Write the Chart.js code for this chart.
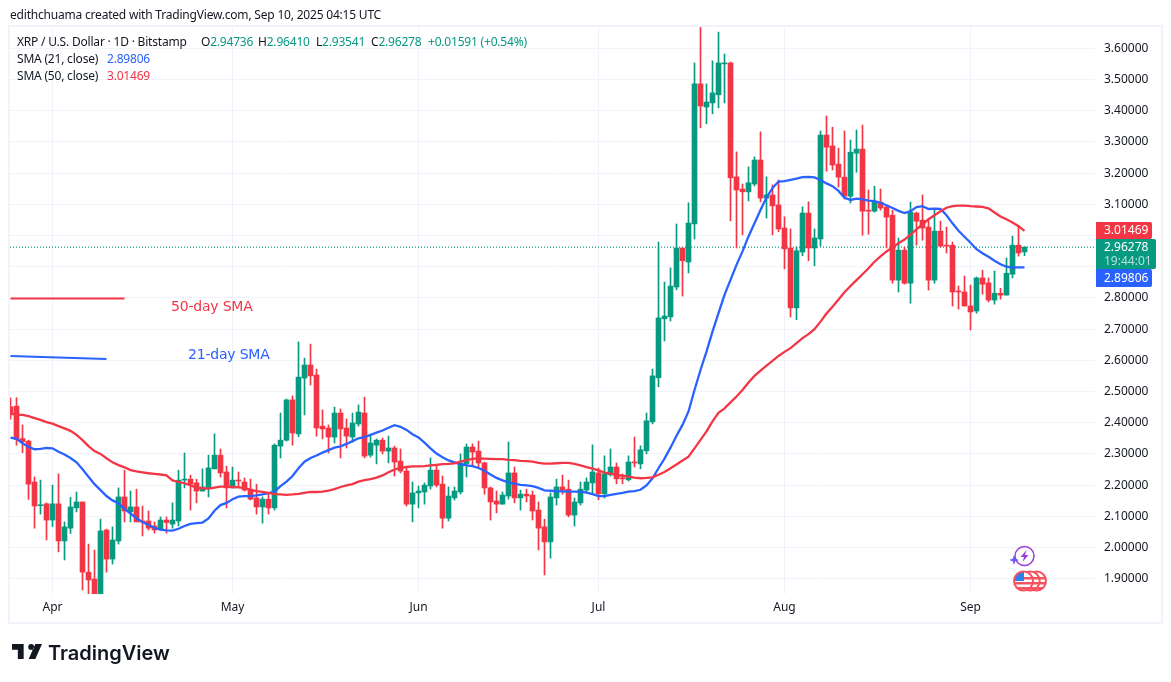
<!DOCTYPE html>
<html><head><meta charset="utf-8">
<style>
html,body{margin:0;padding:0;width:1171px;height:682px;overflow:hidden;background:#fff}
#wrap{position:relative;width:1171px;height:682px}
canvas{position:absolute;left:0;top:0}
.t{position:absolute;font:12px "Noto Sans",sans-serif;letter-spacing:-0.2px;color:#131722;white-space:nowrap;line-height:16px}
.g{color:#089981}
#frame{position:absolute;left:8px;top:25px;width:1151px;height:595px;border:2px solid #f0f3fa}
.note{position:absolute;font:14px "DejaVu Sans",sans-serif;letter-spacing:-0.2px;white-space:nowrap;line-height:18px}
</style></head><body>
<div id="wrap">
<div id="frame"></div>
<canvas id="c" width="1171" height="682"></canvas>
<div class="t" style="left:10px;top:7px">edithchuama created with TradingView.com, Sep 10, 2025 04:15 UTC</div>
<div class="t" style="left:17px;top:34px">XRP / U.S. Dollar · 1D · Bitstamp</div>
<div class="t" style="left:201px;top:34px">O<span class="g">2.94736</span></div>
<div class="t" style="left:258px;top:34px">H<span class="g">2.96410</span></div>
<div class="t" style="left:316px;top:34px">L<span class="g">2.93541</span></div>
<div class="t" style="left:371px;top:34px">C<span class="g">2.96278</span></div>
<div class="t g" style="left:428px;top:34px">+0.01591 (+0.54%)</div>
<div class="t" style="left:17px;top:51px">SMA (21, close)</div>
<div class="t" style="left:107px;top:51px;color:#2962FF">2.89806</div>
<div class="t" style="left:17px;top:68px">SMA (50, close)</div>
<div class="t" style="left:107px;top:68px;color:#F23645">3.01469</div>
<div class="note" style="left:171px;top:297px;color:#F23645">50-day SMA</div>
<div class="note" style="left:188px;top:345px;color:#2962FF">21-day SMA</div>
<svg style="position:absolute;left:12px;top:644px" width="30" height="15" viewBox="0 0 36 18"><path fill="#131722" d="M14 18H7V7H0V0h14v18ZM23 7a3.5 3.5 0 1 0 0-7 3.5 3.5 0 0 0 0 7ZM28 0h8l-8 18h-8l8-18Z"/></svg>
<div style="position:absolute;left:48px;top:639px;font:600 20px Inter,sans-serif;color:#131722;line-height:28px;white-space:nowrap">TradingView</div>
</div>
<script src="https://cdn.jsdelivr.net/npm/chart.js@4/dist/chart.umd.min.js"></script>
<script>
// Day index 0 = 25 Mar 2025, index 169 = 10 Sep 2025
const tickDays = [7,37,68,98,129,160];
const tickNames = {7:'Apr',37:'May',68:'Jun',98:'Jul',129:'Aug',160:'Sep'};
const priceTicks = [1.9,2.0,2.1,2.2,2.3,2.4,2.5,2.6,2.7,2.8,2.9,3.0,3.1,3.2,3.3,3.4,3.5,3.6];

const open = [2.451,2.453,2.349,2.341,2.210,2.134,2.140,2.088,2.140,2.021,2.062,2.127,2.146,1.921,1.899,1.832,2.056,1.963,2.021,2.162,
2.114,2.130,2.085,2.085,2.069,2.059,2.088,2.075,2.085,2.216,2.219,2.207,2.181,2.191,2.252,2.296,2.242,2.191,2.216,2.210,
2.187,2.159,2.130,2.155,2.127,2.325,2.344,2.473,2.364,2.543,2.585,2.553,2.389,2.383,2.354,2.431,2.383,2.354,2.396,2.431,
2.296,2.328,2.344,2.309,2.319,2.277,2.245,2.139,2.175,2.178,2.197,2.248,2.203,2.094,2.159,2.178,2.268,2.322,2.309,2.271,
2.191,2.149,2.139,2.165,2.239,2.159,2.171,2.168,2.120,2.066,2.018,2.159,2.194,2.187,2.104,2.143,2.184,2.207,2.239,2.172,
2.233,2.258,2.223,2.217,2.274,2.268,2.310,2.403,2.544,2.733,2.739,2.835,2.960,2.915,3.037,3.486,3.412,3.425,3.451,3.550,
3.553,3.188,3.149,3.140,3.165,3.242,3.120,3.130,3.098,3.024,2.960,2.768,2.947,3.072,2.960,2.989,3.322,3.287,3.229,3.187,
3.126,3.264,3.277,3.081,3.078,3.107,3.091,3.065,2.857,2.953,2.847,3.072,3.049,3.027,2.857,3.014,2.969,2.969,2.822,2.819,
2.774,2.758,2.864,2.848,2.793,2.815,2.809,2.876,2.969,2.94736];
const high = [2.480,2.480,2.393,2.344,2.226,2.216,2.143,2.200,2.236,2.082,2.161,2.178,2.146,2.011,1.992,2.091,2.059,2.066,2.191,2.248,
2.181,2.187,2.133,2.117,2.082,2.098,2.098,2.143,2.248,2.303,2.232,2.219,2.252,2.296,2.364,2.316,2.261,2.258,2.242,2.223,
2.219,2.203,2.162,2.175,2.332,2.431,2.476,2.486,2.659,2.607,2.652,2.572,2.441,2.393,2.450,2.444,2.412,2.431,2.457,2.482,
2.361,2.348,2.351,2.357,2.325,2.316,2.258,2.210,2.197,2.207,2.287,2.264,2.229,2.194,2.194,2.300,2.332,2.332,2.341,2.274,
2.194,2.181,2.178,2.338,2.258,2.184,2.187,2.181,2.146,2.091,2.175,2.219,2.232,2.216,2.159,2.210,2.223,2.329,2.255,2.294,
2.316,2.271,2.236,2.294,2.354,2.326,2.431,2.572,2.979,2.851,2.896,3.037,2.960,3.105,3.553,3.667,3.486,3.560,3.652,3.582,
3.556,3.268,3.165,3.220,3.252,3.332,3.188,3.162,3.178,3.060,3.021,2.963,3.092,3.108,3.021,3.335,3.383,3.347,3.280,3.335,
3.306,3.338,3.354,3.146,3.158,3.149,3.097,3.081,2.992,2.963,3.107,3.075,3.130,3.049,3.085,3.046,3.027,2.979,2.838,2.870,
2.841,2.867,2.889,2.864,2.886,2.831,2.928,2.998,3.033,2.96410];
const low = [2.411,2.328,2.304,2.154,2.062,2.107,2.024,2.067,1.986,1.960,2.045,2.114,1.864,1.837,1.821,1.821,1.921,1.947,2.011,2.082,
2.082,2.082,2.037,2.056,2.046,2.056,2.046,2.062,2.069,2.191,2.120,2.143,2.181,2.162,2.252,2.226,2.127,2.191,2.194,2.181,
2.152,2.107,2.078,2.107,2.120,2.287,2.341,2.328,2.355,2.425,2.521,2.357,2.348,2.303,2.335,2.287,2.319,2.338,2.389,2.287,
2.290,2.268,2.300,2.271,2.229,2.239,2.133,2.082,2.127,2.139,2.187,2.194,2.062,2.085,2.152,2.171,2.226,2.264,2.258,2.171,
2.088,2.111,2.139,2.155,2.143,2.120,2.146,2.088,1.992,1.912,1.966,2.136,2.171,2.098,2.069,2.136,2.175,2.172,2.153,2.159,
2.229,2.204,2.204,2.213,2.258,2.252,2.300,2.396,2.515,2.662,2.726,2.826,2.806,2.880,2.989,3.345,3.358,3.390,3.409,3.425,
3.047,2.960,3.002,3.111,3.159,3.108,3.056,3.002,3.012,2.893,2.739,2.730,2.935,2.919,2.903,2.966,3.206,3.210,3.155,3.117,
3.104,3.203,3.001,3.004,3.075,3.081,2.960,2.847,2.819,2.844,2.783,2.969,2.985,2.825,2.847,2.963,2.944,2.774,2.764,2.774,
2.697,2.751,2.812,2.787,2.780,2.796,2.809,2.864,2.934,2.93541];
const close = [2.428,2.347,2.339,2.203,2.133,2.136,2.088,2.140,2.021,2.066,2.130,2.146,1.921,1.896,1.837,2.053,1.963,2.024,2.162,2.117,
2.130,2.082,2.082,2.062,2.056,2.088,2.080,2.088,2.216,2.219,2.203,2.181,2.194,2.255,2.296,2.239,2.191,2.216,2.213,2.184,
2.155,2.130,2.155,2.127,2.328,2.344,2.473,2.367,2.546,2.585,2.550,2.383,2.380,2.354,2.431,2.380,2.357,2.399,2.434,2.293,
2.335,2.344,2.309,2.319,2.274,2.245,2.139,2.175,2.181,2.200,2.248,2.200,2.094,2.165,2.181,2.271,2.322,2.306,2.271,2.191,
2.146,2.139,2.168,2.239,2.159,2.171,2.165,2.117,2.062,2.018,2.162,2.194,2.184,2.104,2.146,2.187,2.210,2.242,2.172,2.236,
2.258,2.220,2.220,2.274,2.271,2.313,2.406,2.550,2.736,2.742,2.838,2.960,2.919,3.040,3.486,3.415,3.428,3.457,3.553,3.553,
3.185,3.146,3.140,3.169,3.242,3.120,3.130,3.095,3.021,2.957,2.768,2.951,3.072,2.960,2.992,3.322,3.283,3.226,3.187,3.126,
3.267,3.277,3.078,3.078,3.110,3.088,3.059,2.857,2.953,2.847,3.075,3.046,3.024,2.857,3.014,2.966,2.966,2.819,2.819,2.774,
2.755,2.864,2.844,2.793,2.815,2.809,2.879,2.969,2.944,2.96278];

const sma21 = [2.352,2.348,2.334,2.323,2.315,2.316,2.319,2.318,2.307,2.298,2.287,2.273,2.251,2.227,2.203,2.184,2.165,2.151,2.142,2.124,
2.109,2.094,2.082,2.072,2.063,2.057,2.055,2.054,2.060,2.069,2.076,2.078,2.080,2.093,2.118,2.136,2.143,2.155,2.163,2.165,
2.165,2.167,2.170,2.174,2.179,2.197,2.211,2.229,2.254,2.275,2.287,2.295,2.304,2.312,2.320,2.324,2.332,2.341,2.350,2.354,
2.361,2.368,2.375,2.384,2.392,2.387,2.377,2.363,2.353,2.336,2.318,2.301,2.289,2.279,2.273,2.267,2.263,2.261,2.255,2.246,
2.234,2.223,2.215,2.209,2.205,2.201,2.199,2.197,2.191,2.183,2.182,2.181,2.180,2.179,2.179,2.179,2.176,2.171,2.165,2.165,
2.169,2.172,2.175,2.179,2.181,2.185,2.199,2.222,2.254,2.285,2.320,2.358,2.393,2.436,2.505,2.569,2.628,2.692,2.751,2.810,
2.858,2.906,2.949,2.997,3.039,3.082,3.122,3.152,3.173,3.174,3.178,3.182,3.187,3.188,3.186,3.178,3.167,3.158,3.143,3.121,
3.114,3.118,3.116,3.112,3.110,3.105,3.097,3.088,3.079,3.072,3.078,3.091,3.094,3.085,3.086,3.085,3.065,3.039,3.015,2.996,
2.977,2.956,2.943,2.932,2.919,2.908,2.900,2.897,2.898,2.89806];
const sma50 = [2.428,2.426,2.425,2.421,2.415,2.409,2.402,2.397,2.389,2.382,2.374,2.361,2.344,2.325,2.309,2.300,2.286,2.273,2.264,2.257,
2.248,2.244,2.241,2.238,2.236,2.234,2.231,2.215,2.210,2.206,2.199,2.192,2.190,2.189,2.192,2.195,2.195,2.194,2.193,2.191,
2.185,2.181,2.178,2.175,2.171,2.170,2.169,2.170,2.172,2.175,2.178,2.178,2.179,2.182,2.187,2.194,2.199,2.203,2.211,2.216,
2.219,2.224,2.231,2.241,2.250,2.255,2.258,2.260,2.260,2.261,2.263,2.265,2.267,2.268,2.270,2.275,2.280,2.284,2.286,2.285,
2.284,2.283,2.283,2.281,2.280,2.278,2.277,2.275,2.271,2.269,2.269,2.270,2.271,2.271,2.268,2.263,2.258,2.253,2.247,2.240,
2.237,2.233,2.230,2.227,2.224,2.222,2.223,2.225,2.233,2.242,2.254,2.266,2.279,2.291,2.318,2.345,2.372,2.404,2.432,2.446,
2.465,2.484,2.505,2.529,2.550,2.567,2.583,2.598,2.614,2.627,2.639,2.655,2.671,2.684,2.700,2.724,2.750,2.772,2.795,2.818,
2.838,2.857,2.876,2.895,2.916,2.933,2.949,2.962,2.975,2.987,3.003,3.020,3.036,3.052,3.065,3.078,3.089,3.094,3.096,3.096,
3.094,3.093,3.092,3.087,3.074,3.061,3.052,3.042,3.030,3.01469];

// Hand-drawn guide strokes next to the notes, in chart units
const guide50Days = [0,19];   const guide50Prices = [2.798,2.798];
const guide21Days = [0,16];   const guide21Prices = [2.614,2.604];

const UP='#089981', DOWN='#F23645', BLUE='#2962FF';
const colors = close.map((c,i)=> c>=open[i] ? UP : DOWN);
const XMIN=-0.0833, XMAX=180.75;
const FONT='"Noto Sans",sans-serif';

const tagPlugin = {
  id:'tags',
  afterDraw(chart){
    const ctx=chart.ctx, y=chart.scales.y, x=chart.scales.x;
    const box=(top,h,w,col)=>{ctx.fillStyle=col;ctx.beginPath();ctx.roundRect(1096,top,w,h,[0,2,2,0]);ctx.fill();};
    const txt=(s,yy,col)=>{ctx.fillStyle=col;ctx.font='12px '+FONT;ctx.textBaseline='middle';ctx.textAlign='left';ctx.fillText(s,1104,yy);};
    const redY=y.getPixelForValue(sma50[sma50.length-1]);
    const lastY=y.getPixelForValue(close[close.length-1]);
    box(redY-9,17,56,DOWN); txt(sma50[sma50.length-1].toFixed(5),redY,'#fff');
    box(lastY-8,30,60,UP); txt(close[close.length-1].toFixed(5),lastY+0.5,'#fff'); txt('19:44:01',lastY+14.5,'rgba(255,255,255,.7)');
    box(lastY+22,18,56,BLUE); txt(sma21[sma21.length-1].toFixed(5),lastY+31.5,'#fff');
    // event markers
    const cx=x.getPixelForValue(169);
    ctx.save();
    ctx.lineWidth=1.5;ctx.strokeStyle='#9c3fd6';ctx.fillStyle='#fff';
    ctx.beginPath();ctx.arc(cx,556,9.5,0,Math.PI*2);ctx.fill();ctx.stroke();
    ctx.fillStyle='#9c3fd6';ctx.beginPath();
    [[2,-6],[-4,1],[-0.5,1],[-2,6],[4,-1],[0.5,-1]].forEach((p,i)=>i?ctx.lineTo(cx+p[0],556+p[1]):ctx.moveTo(cx+p[0],556+p[1]));
    ctx.closePath();ctx.fill();
    ctx.fillStyle='#6a5cf0';ctx.beginPath();
    [[0,-5],[1.3,-1.3],[5,0],[1.3,1.3],[0,5],[-1.3,1.3],[-5,0],[-1.3,-1.3]].forEach((p,i)=>i?ctx.lineTo(cx-10.5+p[0],560+p[1]):ctx.moveTo(cx-10.5+p[0],560+p[1]));
    ctx.closePath();ctx.fill();
    [13,6.7,0].forEach(d=>{
      const fx=cx-1+d,fy=581,r=9.5;
      ctx.save();ctx.beginPath();ctx.arc(fx,fy,r,0,Math.PI*2);ctx.fillStyle='#fff';ctx.fill();ctx.clip();
      ctx.fillStyle='#F7525F';
      ctx.fillRect(fx-r,fy-4,2*r,2.5);ctx.fillRect(fx-r,fy+1,2*r,2.5);ctx.fillRect(fx-r,fy+6,2*r,2.5);
      if(d===0){ctx.fillStyle='#2f80ed';ctx.fillRect(fx-r,fy-r,r+0.5,r);}
      ctx.restore();
      ctx.strokeStyle='#F7525F';ctx.lineWidth=2;ctx.beginPath();ctx.arc(fx,fy,r,0,Math.PI*2);ctx.stroke();
    });
    ctx.restore();
  }
};

new Chart(document.getElementById('c'),{
  type:'bar',
  data:{datasets:[
    {type:'line',label:'SMA 50',data:sma50.map((v,i)=>({x:i,y:v})),borderColor:DOWN,borderWidth:2.3,pointRadius:0,tension:0,order:0},
    {type:'line',label:'SMA 21',data:sma21.map((v,i)=>({x:i,y:v})),borderColor:BLUE,borderWidth:2.3,pointRadius:0,tension:0,order:0},
    {type:'line',label:'guide 50',data:guide50Days.map((d,i)=>({x:d,y:guide50Prices[i]})),borderColor:DOWN,borderWidth:2,pointRadius:0,order:0},
    {type:'line',label:'guide 21',data:guide21Days.map((d,i)=>({x:d,y:guide21Prices[i]})),borderColor:BLUE,borderWidth:2,pointRadius:0,order:0},
    {label:'wick',data:close.map((_,i)=>({x:i,y:[low[i],high[i]]})),backgroundColor:colors,barThickness:1,grouped:false,order:1,borderWidth:0},
    {label:'body',data:close.map((_,i)=>({x:i,y:[open[i],close[i]]})),backgroundColor:colors,barThickness:5,grouped:false,order:1,borderWidth:0,minBarLength:1},
    {type:'line',label:'last',data:[{x:XMIN,y:close[169]},{x:XMAX,y:close[169]}],borderColor:UP,borderWidth:1.3,borderDash:[1,2],pointRadius:0,order:2}
  ]},
  plugins:[tagPlugin],
  options:{
    responsive:false,animation:false,devicePixelRatio:1,
    layout:{padding:{left:10,top:27,right:0,bottom:0}},
    plugins:{legend:{display:false},tooltip:{enabled:false}},
    scales:{
      x:{type:'linear',min:XMIN,max:XMAX,offset:false,
        grid:{color:'#f0f3fa',drawTicks:false,offset:false},border:{display:false},
        afterBuildTicks:s=>{s.ticks=tickDays.map(v=>({value:v}));},
        afterFit:s=>{s.height=88;},
        ticks:{autoSkip:false,maxRotation:0,padding:6,color:'#131722',font:{family:FONT,size:12},callback:v=>tickNames[v]||''}},
      y:{type:'linear',position:'right',min:1.851,max:3.6683,
        grid:{color:'#f0f3fa',drawTicks:false},border:{display:false},
        afterBuildTicks:s=>{s.ticks=priceTicks.map(v=>({value:v}));},
        afterFit:s=>{s.width=76;},
        ticks:{autoSkip:false,padding:9,color:'#131722',font:{family:FONT,size:12},callback:v=>v.toFixed(5)}}
    }
  }
});
</script>
</body></html>
